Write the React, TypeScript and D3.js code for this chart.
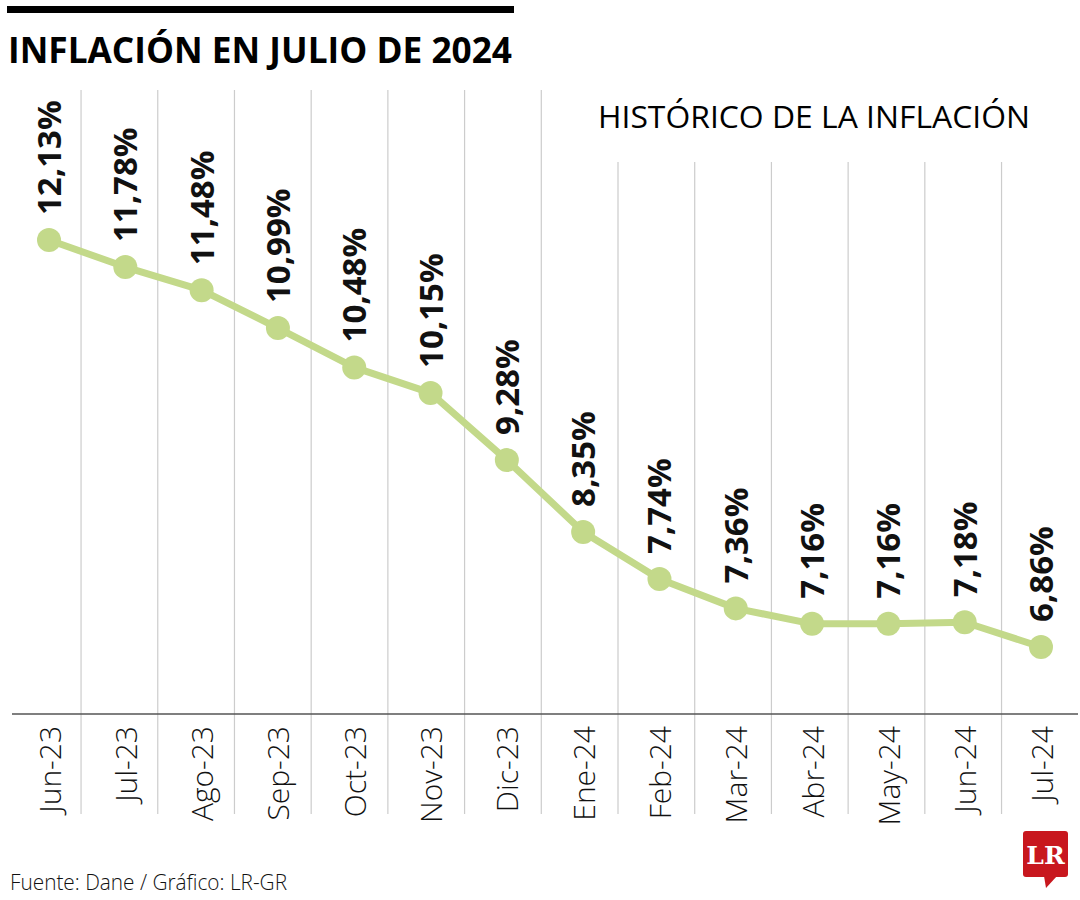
import React from "react";
import * as d3 from "d3";

const months = [
  "Jun-23", "Jul-23", "Ago-23", "Sep-23", "Oct-23", "Nov-23", "Dic-23",
  "Ene-24", "Feb-24", "Mar-24", "Abr-24", "May-24", "Jun-24", "Jul-24",
];
const values = [12.13, 11.78, 11.48, 10.99, 10.48, 10.15, 9.28, 8.35, 7.74, 7.36, 7.16, 7.16, 7.18, 6.86];
const labels = values.map((v) => v.toFixed(2).replace(".", ",") + "%");

const title = "INFLACIÓN EN JULIO DE 2024";
const subtitle = "HISTÓRICO DE LA INFLACIÓN";
const source = "Fuente: Dane / Gráfico: LR-GR";

const W = 1080;
const H = 900;
const GREEN = "#c3d98a";
const FONT = "'Open Sans', 'Noto Sans', sans-serif";

export default function App() {
  const x = d3.scalePoint<string>().domain(months).range([49, 1041]);
  const y = d3.scaleLinear().domain([6.86, 12.13]).range([647, 240]);
  const step = x.step();
  const line = d3
    .line<number>()
    .x((_, i) => x(months[i]) as number)
    .y((d) => y(d));

  const gridIdx = d3.range(months.length - 1);

  return (
    <svg
      width={W}
      height={H}
      style={{ position: "absolute", left: 0, top: 0, background: "#fff" }}
      fontFamily={FONT}
    >
      <rect x={0} y={0} width={W} height={H} fill="#fff" />
      {/* top bar */}
      <rect x={7} y={6} width={507} height={7} fill="#000" />
      <text
        x={8}
        y={63}
        fontSize={35}
        fontWeight={700}
        textLength={504}
        lengthAdjust="spacingAndGlyphs"
        fill="#000"
      >
        {title}
      </text>
      <text
        x={598}
        y={128}
        fontSize={31}
        fontWeight={400}
        textLength={432}
        lengthAdjust="spacingAndGlyphs"
        fill="#000"
      >
        {subtitle}
      </text>

      {/* gridlines */}
      {gridIdx.map((k) => {
        const gx = (x(months[k]) as number) + step * 0.42 + 0.4 * k;
        const top = gx < 560 ? 90 : 162;
        return (
          <line key={k} x1={gx} x2={gx} y1={top} y2={814} stroke="#cccccc" strokeWidth={1.2} />
        );
      })}

      {/* axis line */}
      <line x1={12} x2={1078} y1={714} y2={714} stroke="#555" strokeWidth={1.5} />

      {/* line and points */}
      <path d={line(values) || ""} fill="none" stroke={GREEN} strokeWidth={7} strokeLinejoin="round" />
      {values.map((v, i) => (
        <circle key={i} cx={x(months[i])} cy={y(v)} r={12} fill={GREEN} />
      ))}

      {/* value labels */}
      {values.map((v, i) => {
        const px = x(months[i]) as number;
        const py = y(v);
        return (
          <text
            key={i}
            transform={`translate(${px + 12},${py - 25}) rotate(-90)`}
            fontSize={33}
            fontWeight={700}
            fill="#111"
          >
            {labels[i]}
          </text>
        );
      })}

      {/* axis labels */}
      {months.map((m) => {
        const px = x(m) as number;
        return (
          <text
            key={m}
            transform={`translate(${px},726) rotate(-90)`}
            textAnchor="end"
            dominantBaseline="central"
            fontSize={30}
            fontWeight={300}
            fill="#111"
          >
            {m}
          </text>
        );
      })}

      {/* source */}
      <text
        x={10}
        y={890}
        fontSize={22}
        fontWeight={300}
        textLength={277}
        lengthAdjust="spacingAndGlyphs"
        fill="#111"
      >
        {source}
      </text>

      {/* LR logo */}
      <rect x={1023} y={831} width={45} height={46} rx={3} fill="#c8171e" />
      <path d="M1044,876 L1057,876 L1046,888 Z" fill="#c8171e" />
      <text
        x={1045.5}
        y={864}
        textAnchor="middle"
        fontSize={25}
        fontWeight={700}
        fontFamily="'DejaVu Serif', 'Liberation Serif', serif"
        fill="#fff"
      >
        LR
      </text>
    </svg>
  );
}
